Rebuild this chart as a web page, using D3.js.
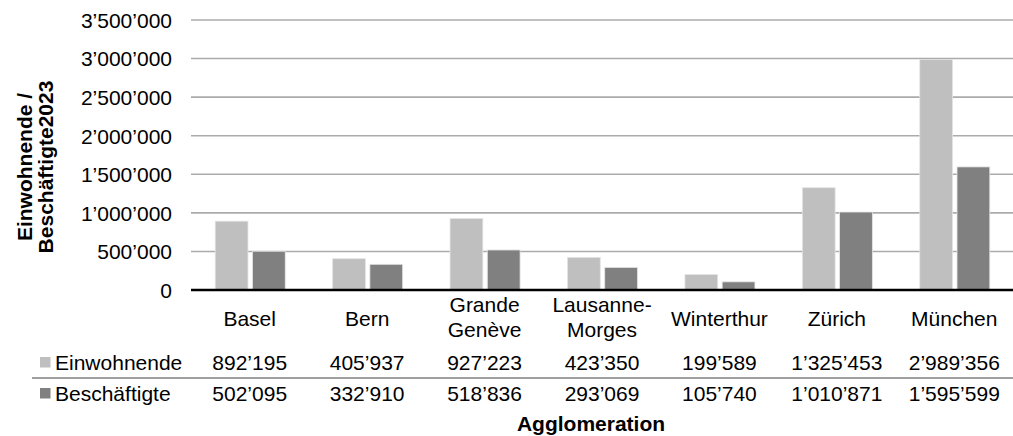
<!DOCTYPE html>
<html>
<head>
<meta charset="utf-8">
<script src="https://cdn.jsdelivr.net/npm/d3@7"></script>
<style>
  html, body { margin: 0; padding: 0; background: #ffffff; }
  svg { display: block; }
  text { font-family: "Liberation Sans", Arial, sans-serif; fill: #000; }
</style>
</head>
<body>
<svg id="chart" width="1013" height="436"></svg>
<script>
// ---- Data ----
const categories = ["Basel", "Bern", "Grande\nGenève", "Lausanne-\nMorges", "Winterthur", "Zürich", "München"];
const seriesNames = ["Einwohnende", "Beschäftigte"];
const einwohnende = [892195, 405937, 927223, 423350, 199589, 1325453, 2989356];
const beschaeftigte = [502095, 332910, 518836, 293069, 105740, 1010871, 1595599];
const yTicks = [0, 500000, 1000000, 1500000, 2000000, 2500000, 3000000, 3500000];
const yTitleLines = ["Einwohnende /", "Beschäftigte2023"];
const xTitle = "Agglomeration";

const seriesValues = [einwohnende, beschaeftigte];
const colors = ["#bfbfbf", "#808080"];

// ---- Layout ----
const svg = d3.select("#chart");
const plotLeft = 191, plotRight = 1013, plotTop = 20, plotBottom = 290;
const fs = 21;

const locale = d3.formatLocale({ decimal: ".", thousands: "’", grouping: [3], currency: ["", ""] });
const fmt = locale.format(",d");

const x = d3.scaleBand().domain(d3.range(categories.length)).range([plotLeft, plotRight]).paddingInner(0).paddingOuter(0);
const bw = x.bandwidth();
const xSub = d3.scaleBand().domain(seriesNames).range([bw / 2 - 34.5, bw / 2 + 35.5]).paddingInner(0.12);
const y = d3.scaleLinear().domain([0, 3500000]).range([plotBottom, plotTop]);

// Gridlines
const yAxis = d3.axisLeft(y).tickValues(yTicks).tickSize(0).tickFormat(fmt);
svg.append("g").selectAll("line.grid")
  .data(yTicks.filter(d => d > 0))
  .join("line")
  .attr("x1", plotLeft).attr("x2", plotRight)
  .attr("y1", d => y(d)).attr("y2", d => y(d))
  .attr("stroke", "#ababab").attr("stroke-width", 1.6);

// Y tick labels
const gy = svg.append("g").attr("transform", `translate(${172},0)`).call(yAxis);
gy.select(".domain").remove();
gy.selectAll("text")
  .attr("x", 0).attr("dy", "0.35em")
  .style("font-size", fs + "px")
  .style("font-family", '"Liberation Sans", Arial, sans-serif')
  .attr("fill", "#000");

// Bars
const groups = svg.append("g").selectAll("g")
  .data(categories.map((c, i) => i))
  .join("g")
  .attr("transform", i => `translate(${x(i)},0)`);
groups.selectAll("rect")
  .data(i => seriesNames.map((s, k) => ({ s, k, v: seriesValues[k][i] })))
  .join("rect")
  .attr("x", d => xSub(d.s))
  .attr("width", xSub.bandwidth())
  .attr("y", d => y(d.v))
  .attr("height", d => y(0) - y(d.v))
  .attr("fill", d => colors[d.k])
  .attr("stroke", "#e4e4e4").attr("stroke-width", 0.8);

// Baseline axis
svg.append("line")
  .attr("x1", plotLeft).attr("x2", plotRight)
  .attr("y1", y(0)).attr("y2", y(0))
  .attr("stroke", "#000").attr("stroke-width", 2.6);

// Category labels
const catG = svg.append("g");
categories.forEach((c, i) => {
  const lines = c.split("\n");
  const cx = x(i) + bw / 2;
  const t = catG.append("text").attr("text-anchor", "middle").style("font-size", fs + "px");
  if (lines.length === 1) {
    t.append("tspan").attr("x", cx).attr("y", 326).text(lines[0]);
  } else {
    lines.forEach((l, j) => t.append("tspan").attr("x", cx).attr("y", 312 + j * 25).text(l));
  }
});

// Data table rows
const rowY = [370, 401];
seriesNames.forEach((s, k) => {
  svg.append("rect").attr("x", 40).attr("y", rowY[k] - 13).attr("width", 10.5).attr("height", 10.5).attr("fill", colors[k]);
  svg.append("text").attr("x", 55).attr("y", rowY[k]).style("font-size", fs + "px").text(s);
  svg.append("g").selectAll("text")
    .data(seriesValues[k])
    .join("text")
    .attr("x", (d, i) => x(i) + bw / 2)
    .attr("y", rowY[k])
    .attr("text-anchor", "middle")
    .style("font-size", fs + "px")
    .text(d => fmt(d));
});

// Table separator line
svg.append("line")
  .attr("x1", 32).attr("x2", plotRight)
  .attr("y1", 378).attr("y2", 378)
  .attr("stroke", "#a0a0a0").attr("stroke-width", 2.2);

// X axis title
svg.append("text")
  .attr("x", 591).attr("y", 431)
  .attr("text-anchor", "middle")
  .style("font-size", fs + "px").style("font-weight", "bold")
  .text(xTitle);

// Y axis title
const yt = svg.append("text")
  .attr("transform", "translate(0,167) rotate(-90)")
  .attr("text-anchor", "middle")
  .style("font-size", fs + "px").style("font-weight", "bold");
yTitleLines.forEach((l, j) => yt.append("tspan").attr("x", 0).attr("y", 32 + j * 21).text(l));
</script>
</body>
</html>
